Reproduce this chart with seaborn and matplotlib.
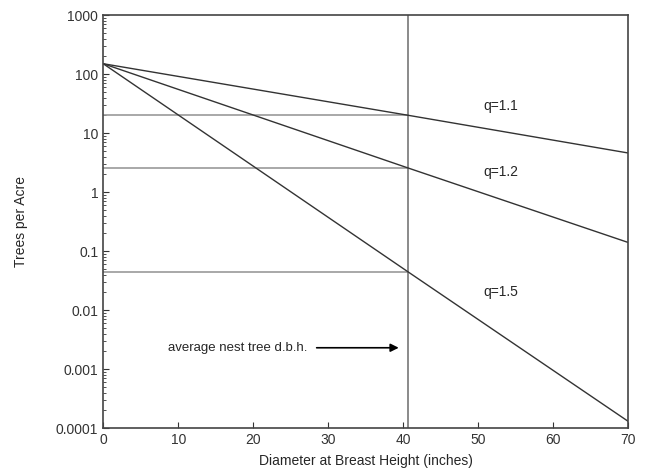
import pandas as pd
import matplotlib
matplotlib.use("Agg")
import matplotlib.pyplot as plt
import matplotlib.ticker as mticker
import seaborn as sns

# values (trees per acre at given d.b.h.)
dbh = [0, 40.7, 70]
q11 = [150, 20, 4.6]
q12 = [150, 2.55, 0.14]
q15 = [150, 0.044, 0.00013]
q_labels = ["q=1.1", "q=1.2", "q=1.5"]
y_ticks = [0.0001, 0.001, 0.01, 0.1, 1, 10, 100, 1000]
y_ticklabels = ["0.0001", "0.001", "0.01", "0.1", "1", "10", "100", "1000"]
nest_dbh = 40.7

sns.set_style("ticks")
plt.rcParams["font.family"] = ["Liberation Sans", "DejaVu Sans"]

rows = []
for lab, vals in zip(q_labels, [q11, q12, q15]):
    for x, y in zip(dbh, vals):
        rows.append({"dbh": x, "tpa": y, "q": lab})
df = pd.DataFrame(rows)

fig = plt.figure(figsize=(6.45, 4.72), dpi=100)
ax = fig.add_axes([0.16, 0.093, 0.814, 0.875])

# gray reference lines at the average nest tree d.b.h.
for vals in [q11, q12, q15]:
    ax.plot([0, nest_dbh], [vals[1], vals[1]], color="#999999", lw=1.2, zorder=1)
ax.axvline(nest_dbh, color="#777777", lw=1.2, zorder=1)

sns.lineplot(data=df, x="dbh", y="tpa", hue="q", palette=["#333333"] * 3,
             linewidth=1.0, legend=False, ax=ax, zorder=2)

ax.set_yscale("log")
ax.set_xlim(0, 70)
ax.set_ylim(0.0001, 1000)
ax.set_xticks(range(0, 71, 10))
ax.yaxis.set_major_locator(mticker.FixedLocator(y_ticks))
ax.yaxis.set_major_formatter(mticker.FixedFormatter(y_ticklabels))
minor = [m * t for t in y_ticks[:-1] for m in range(2, 10)]
ax.yaxis.set_minor_locator(mticker.FixedLocator(minor))
ax.yaxis.set_minor_formatter(mticker.NullFormatter())
ax.tick_params(axis="both", which="both", direction="in", colors="#333333", labelsize=10)
ax.tick_params(which="major", length=4)
ax.tick_params(which="minor", length=2.5)
for s in ax.spines.values():
    s.set_color("#444444")
    s.set_linewidth(1.2)

ax.set_xlabel("Diameter at Breast Height (inches)", fontsize=10, labelpad=5)
ax.set_ylabel("Trees per Acre", fontsize=10, labelpad=20)

ax.text(53, 29, q_labels[0], fontsize=10, ha="center", va="center")
ax.text(53, 2.2, q_labels[1], fontsize=10, ha="center", va="center")
ax.text(53, 0.02, q_labels[2], fontsize=10, ha="center", va="center")

ax.annotate("average nest tree d.b.h.", xy=(39.4, 0.0023), xytext=(8.7, 0.0023),
            fontsize=9.5, va="center", ha="left",
            arrowprops=dict(arrowstyle="-|>", color="black", lw=1.2, mutation_scale=12,
                            shrinkA=4, shrinkB=0))

fig.savefig("out.png", dpi=100)
